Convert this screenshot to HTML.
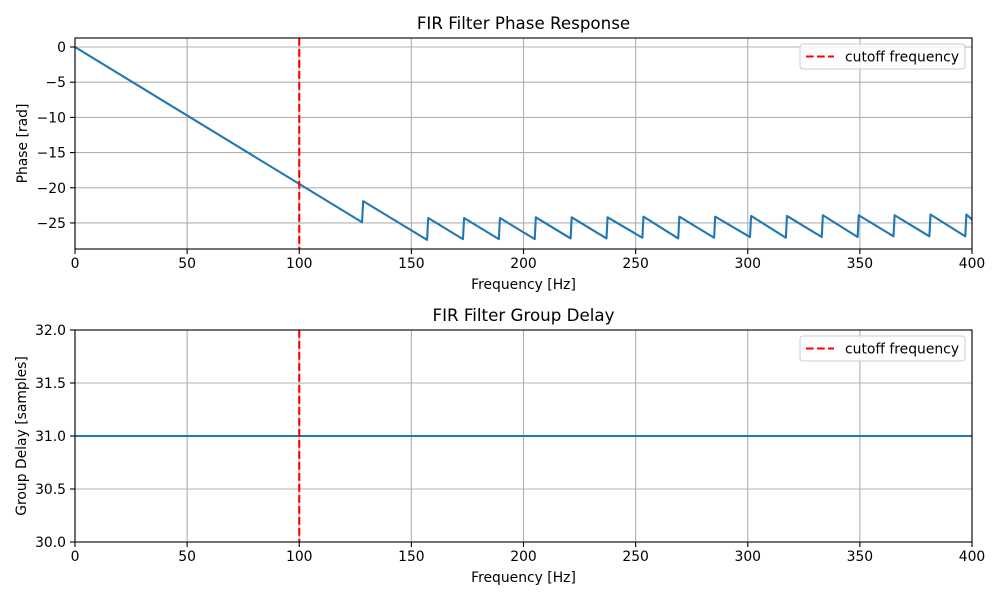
<!DOCTYPE html>
<html><head><meta charset="utf-8"><style>
body{margin:0;background:#fff}
svg text{font-family:"DejaVu Sans","Liberation Sans",sans-serif;fill:#000}
</style></head><body>
<svg id="fig" width="1000" height="600" viewBox="0 0 1000 600" xmlns="http://www.w3.org/2000/svg"></svg>
<script>
const phaseFreqs=[0,128,128.5,157,157.5,173,173.5,189,189.5,205,205.5,221,221.5,237,237.5,253,253.5,269,269.5,285,285.5,301,301.5,317,317.5,333,333.5,349,349.5,365,365.5,381,381.5,397,397.5,400];
const phaseVals=[0,-24.9,-21.9,-27.4,-24.3,-27.3,-24.3,-27.3,-24.3,-27.3,-24.2,-27.2,-24.2,-27.2,-24.2,-27.1,-24.1,-27.2,-24.1,-27.1,-24.1,-27.0,-24.0,-27.1,-24.0,-27.0,-23.9,-27.0,-23.9,-26.9,-23.9,-26.9,-23.8,-26.9,-23.8,-24.5];
const gdFreqs=[0,400];
const gdVals=[31,31];
const cutoff=100;
const xTicks=[0,50,100,150,200,250,300,350,400];
const phaseTicks=[0,-5,-10,-15,-20,-25];
const gdTicks=[30.0,30.5,31.0,31.5,32.0];

const NS="http://www.w3.org/2000/svg";
const svg=document.getElementById('fig');
function mk(t,a,p){const e=document.createElementNS(NS,t);for(const k in a)e.setAttribute(k,a[k]);(p||svg).appendChild(e);return e;}

function panel(o){
  const g=mk('g',{});
  
  
  const L=75,R=972,T=o.top,B=o.bottom;
  const xs=v=>L+(v-0)/(400-0)*(R-L);
  const ys=v=>T+(o.ymax-v)/(o.ymax-o.ymin)*(B-T);
  // grid
  xTicks.forEach(v=>{const l=mk('line',{x1:xs(v),x2:xs(v),y1:T,y2:B,stroke:'#b0b0b0','stroke-width':1.1},g);
    });
  o.yTicks.forEach(v=>{const l=mk('line',{x1:L,x2:R,y1:ys(v),y2:ys(v),stroke:'#b0b0b0','stroke-width':1.1},g);
    });
  // series
  const pts=o.fx.map((f,i)=>xs(f).toFixed(2)+','+ys(o.fy[i]).toFixed(2)).join(' ');
  const s=mk('polyline',{points:pts,fill:'none',stroke:'#1f77b4','stroke-width':2.1,'stroke-linejoin':'round'},g);
  
  // cutoff
  const c=mk('line',{x1:xs(cutoff),x2:xs(cutoff),y1:T,y2:B,stroke:'#ff0000','stroke-width':2.1,'stroke-dasharray':'7.7,3.3'},g);
  
  // frame
  const f=mk('rect',{x:L,y:T,width:R-L,height:B-T,fill:'none',stroke:'#000','stroke-width':1.1},g);
  
  // ticks
  xTicks.forEach(v=>{mk('line',{x1:xs(v),x2:xs(v),y1:B,y2:B+5,stroke:'#000','stroke-width':1.1},g);
    const t=mk('text',{x:xs(v),y:B+19,'text-anchor':'middle','font-size':13.9},g);t.textContent=v;
    });
  o.yTicks.forEach(v=>{mk('line',{x1:L-5,x2:L,y1:ys(v),y2:ys(v),stroke:'#000','stroke-width':1.1},g);
    const t=mk('text',{x:L-9,y:ys(v)+5,'text-anchor':'end','font-size':13.9},g);
    t.textContent=o.fmt(v).replace('-','\u2212');
    });
  const xt=mk('text',{x:(L+R)/2,y:B+40,'text-anchor':'middle','font-size':13.9},g);xt.textContent='Frequency [Hz]';
  
  const yt=mk('text',{x:0,y:0,'text-anchor':'middle','font-size':13.9,transform:`translate(${o.ylabX},${(T+B)/2}) rotate(-90)`},g);yt.textContent=o.ylabel;
  
  const tt=mk('text',{x:(L+R)/2,y:T-9,'text-anchor':'middle','font-size':16.7},g);tt.textContent=o.title;
  
  // legend
  const lg=mk('g',{},g);
  
  mk('rect',{x:800,y:T+6,width:165,height:25,rx:3,fill:'#fff','fill-opacity':0.8,stroke:'#cccccc','stroke-width':1},lg);
  mk('line',{x1:806,x2:834,y1:T+18.5,y2:T+18.5,stroke:'#ff0000','stroke-width':2.1,'stroke-dasharray':'7.7,3.3'},lg);
  const lt=mk('text',{x:845,y:T+23.5,'font-size':13.9},lg);lt.textContent='cutoff frequency';
  
}
panel({name:'phase-chart',top:38,bottom:249,ymin:-28.7,ymax:1.28,yTicks:phaseTicks,fmt:v=>String(v),fx:phaseFreqs,fy:phaseVals,
  seriesName:'phase-line',ylabel:'Phase [rad]',ylabX:27,title:'FIR Filter Phase Response'});
panel({name:'group-delay-chart',top:330,bottom:542,ymin:30,ymax:32,yTicks:gdTicks,fmt:v=>v.toFixed(1),fx:gdFreqs,fy:gdVals,
  seriesName:'group-delay-line',ylabel:'Group Delay [samples]',ylabX:26,title:'FIR Filter Group Delay'});
</script>
</body></html>
